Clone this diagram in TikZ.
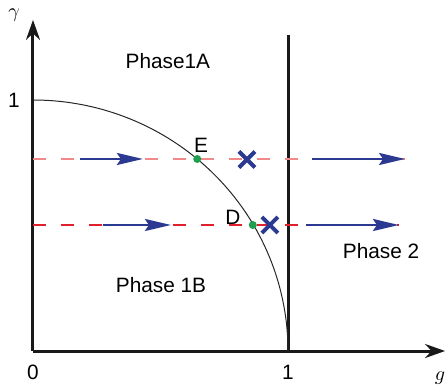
\documentclass[tikz,border=0pt]{standalone}
\usepackage{fontspec}
\setmainfont{Liberation Sans}
\usepackage{tikz}
\usetikzlibrary{arrows.meta,shapes.misc}
\definecolor{flowblue}{HTML}{2B3990}
\definecolor{pointgreen}{HTML}{1FA050}
\definecolor{lightred}{HTML}{F08A8A}
\definecolor{darkred}{HTML}{E0202A}

\begin{document}
\begin{tikzpicture}[
    x=127.5pt, y=125.5pt,
    font=\fontsize{10.4}{12}\selectfont,
    axis/.style={line width=1.5pt, draw=black!90, -{Stealth[length=10pt,width=7pt]}},
    boundary/.style={line width=1.5pt, draw=black!90},
    crit/.style={line width=0.5pt, draw=black!85},
    flowline/.style={line width=1pt, dash pattern=on 6.5pt off 7.5pt},
    flow/.style={line width=1.2pt, draw=flowblue, -{Stealth[length=13pt,width=6pt,inset=2pt]}},
    fixpoint/.style={circle, fill=pointgreen, inner sep=0pt, minimum size=4pt},
    xmark/.style={cross out, draw=flowblue, line width=2pt, inner sep=0pt, minimum size=6pt}
]
    \useasboundingbox (-0.1294,-0.1514) rectangle (1.6196,1.3984);

    % axes
    \coordinate (origin) at (0,0);
    \coordinate (gend) at (1.616,0);
    \coordinate (yend) at (0,1.319);
    \draw[axis] (origin) -- (gend);
    \draw[axis] (origin) -- (yend);

    % phase boundaries
    \coordinate (bottom) at (1,0);
    \coordinate (top) at (1,1.259);
    \draw[boundary] (bottom) -- (top);
    \draw[crit] plot[domain=90:0, samples=80, smooth] ({cos(\x)},{sin(\x)});

    % flow lines
    \coordinate (upL) at (0,0.765);
    \coordinate (upR) at (1.459,0.765);
    \coordinate (loL) at (0,0.502);
    \coordinate (loR) at (1.435,0.502);
    \draw[flowline, draw=lightred] (upL) -- (upR);
    \draw[flowline, draw=darkred, line width=0.7pt] (loL) -- (loR);

    \coordinate (a1) at (0.184,0.765);
    \coordinate (b1) at (0.431,0.765);
    \coordinate (a2) at (1.094,0.765);
    \coordinate (b2) at (1.459,0.765);
    \coordinate (a3) at (0.275,0.502);
    \coordinate (b3) at (0.541,0.502);
    \coordinate (a4) at (1.071,0.502);
    \coordinate (b4) at (1.435,0.502);
    \draw[flow] (a1) -- (b1);
    \draw[flow] (a2) -- (b2);
    \draw[flow] (a3) -- (b3);
    \draw[flow] (a4) -- (b4);

    % points
    \node[fixpoint] (E) at (0.644,0.765) {};
    \node[fixpoint] (D) at (0.862,0.502) {};
    \node at (0.659,0.821) {E};
    \node at (0.784,0.534) {D};
    \node[xmark] (xE) at (0.839,0.763) {};
    \node[xmark] (xD) at (0.929,0.502) {};

    % labels
    \node (phaseA) at (0.529,1.155) {Phase1A};
    \node (phaseB) at (0.502,0.263) {Phase 1B};
    \node (phaseC) at (1.365,0.398) {Phase 2};
    \node at (-0.0745,1.0) {1};
    \node at (0,-0.0837) {0};
    \node at (1,-0.0837) {1};
    \node at (1.596,-0.1076) {$g$};
    \node at (-0.0745,1.339) {$\gamma$};
\end{tikzpicture}
\end{document}
